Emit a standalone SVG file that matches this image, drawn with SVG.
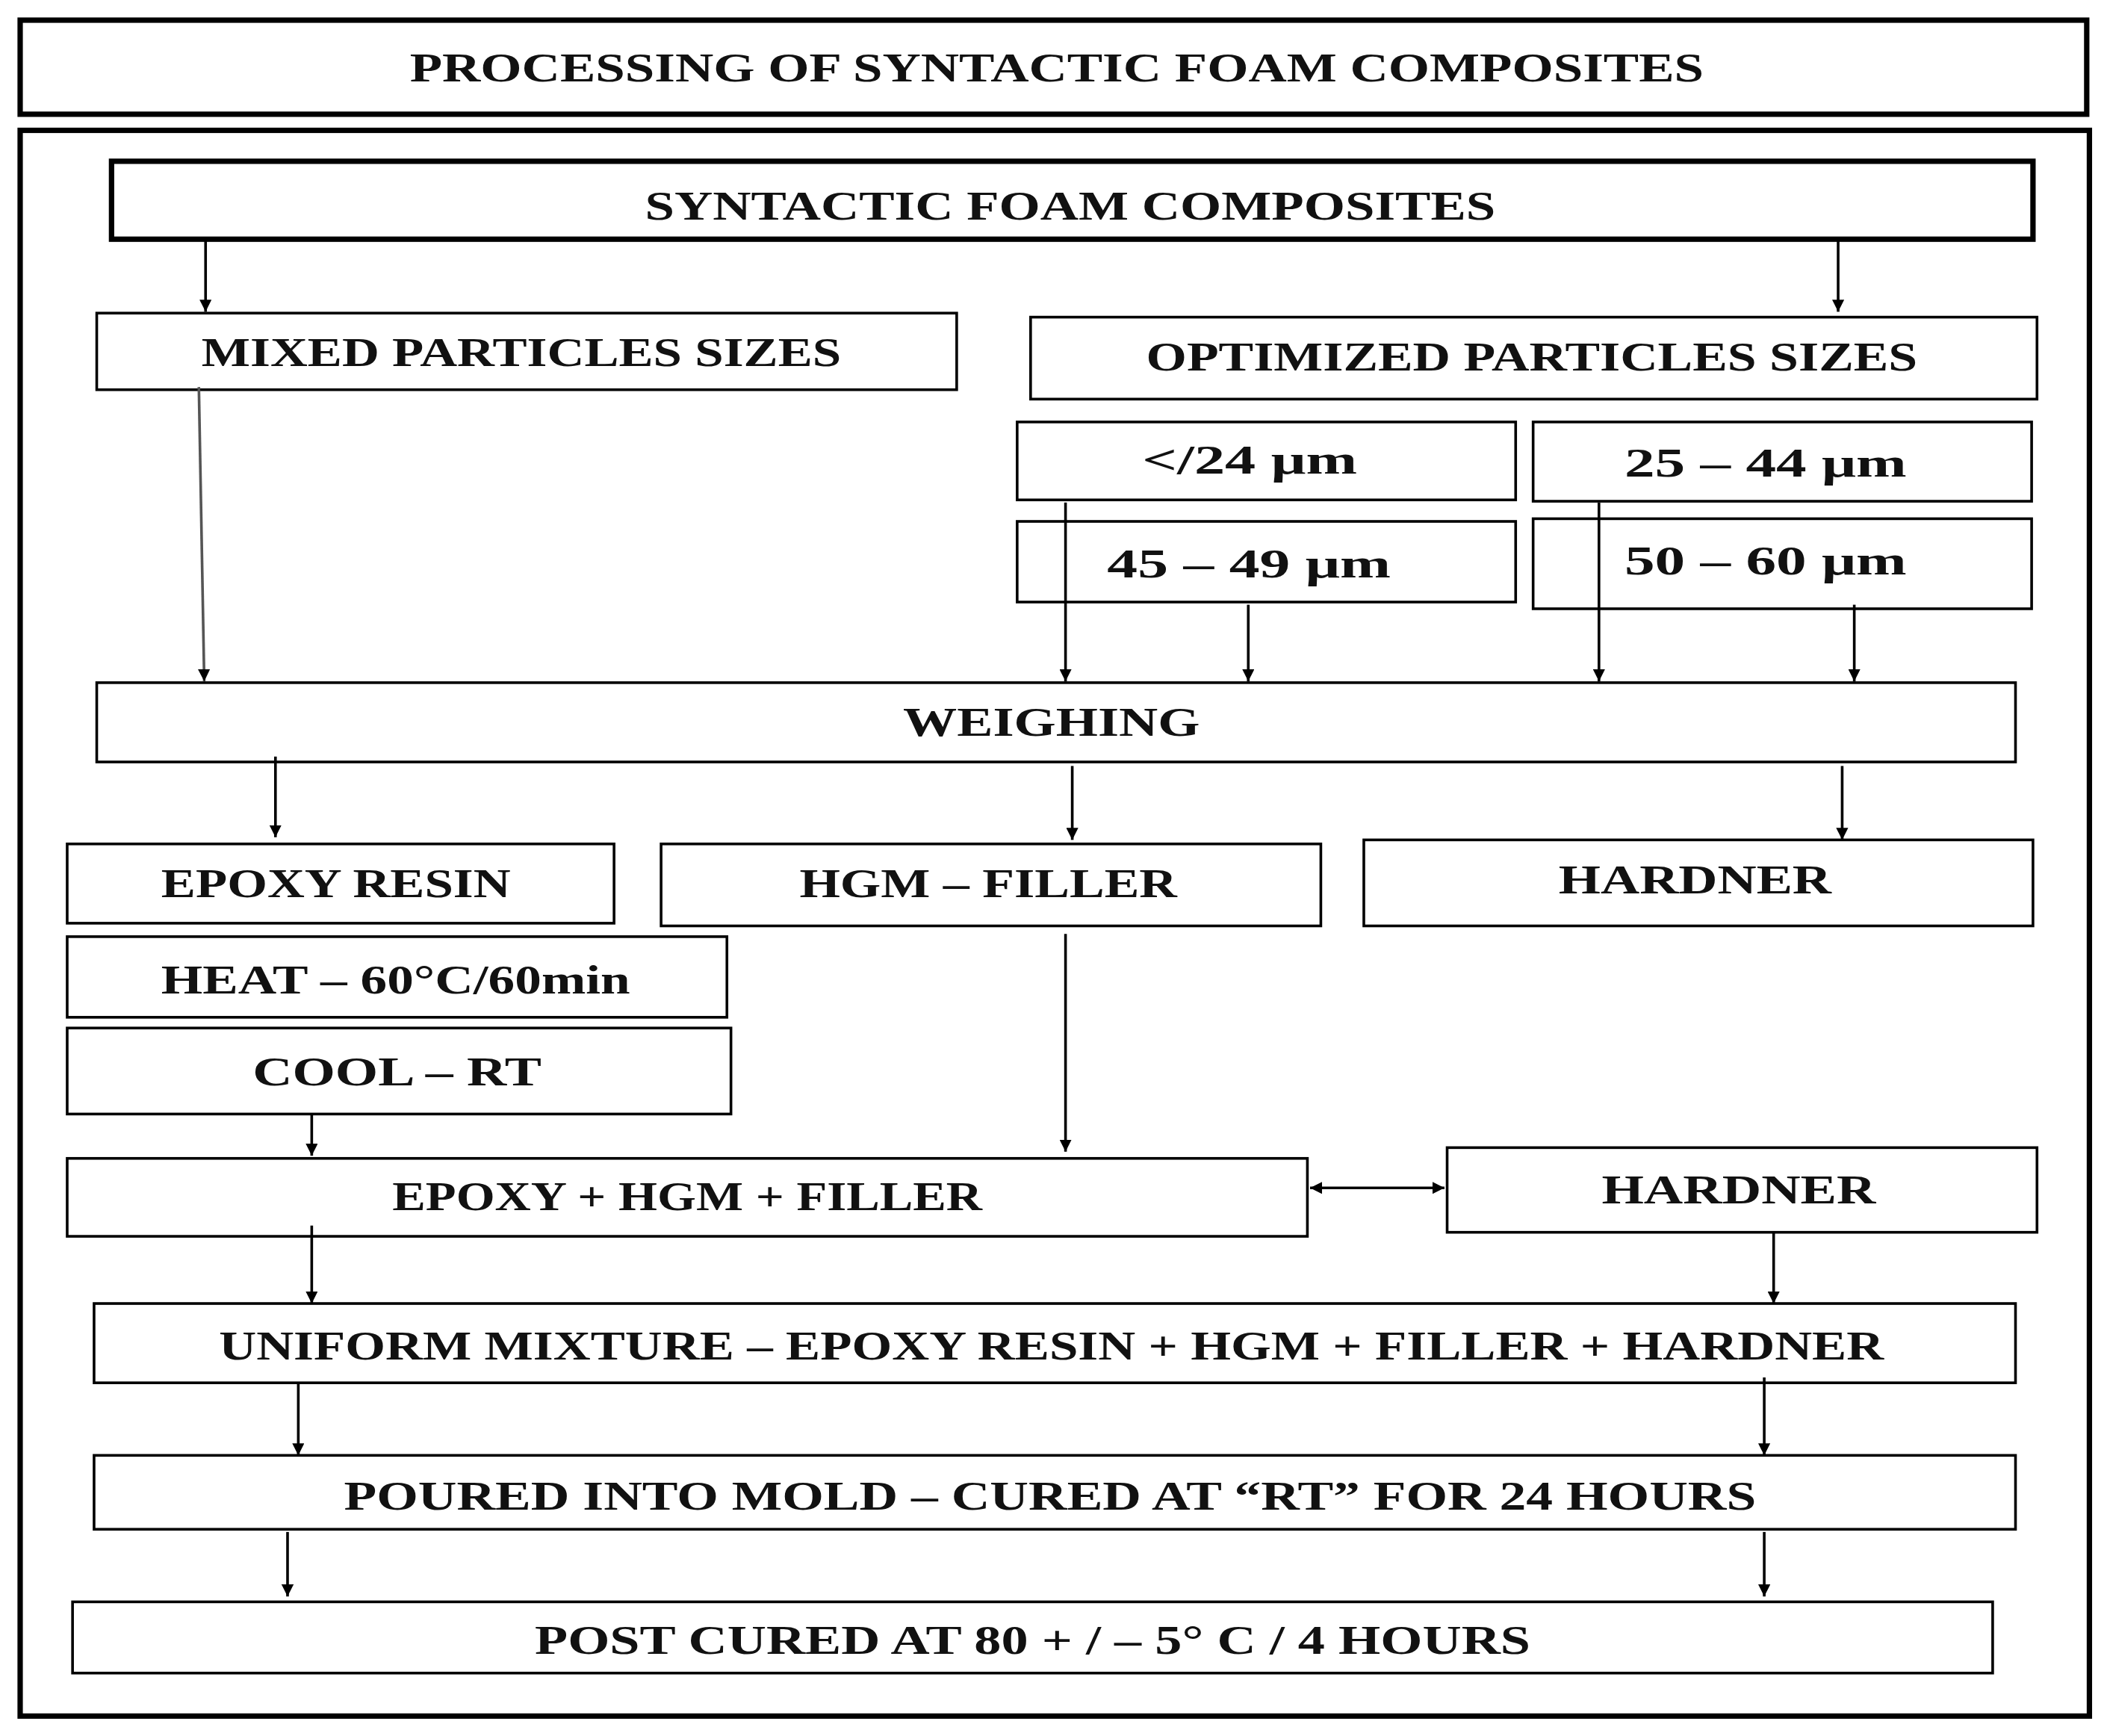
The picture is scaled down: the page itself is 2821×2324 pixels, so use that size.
<svg xmlns="http://www.w3.org/2000/svg" width="2821" height="2324" viewBox="0 0 2821 2324">
<defs>
<marker id="ah" viewBox="0 0 10 10" refX="10" refY="5" markerWidth="9" markerHeight="9" markerUnits="userSpaceOnUse" orient="auto-start-reverse"><path d="M0,0 L10,5 L0,10 z" fill="#000"/></marker>
<style>
rect{fill:#fff;stroke:#000;stroke-width:2}
.thick{stroke-width:4}
text{font-family:"Liberation Serif","DejaVu Serif",serif;font-weight:bold;font-size:31px;fill:#111;text-anchor:start;dominant-baseline:central}
.c line{stroke:#000;stroke-width:2;marker-end:url(#ah)}
</style>
</defs>
<rect x="0" y="0" width="2821" height="2324" style="fill:#fff;stroke:none"/>
<g transform="scale(1.799)">
<g id="title"><rect class="thick" x="15" y="15" width="1538" height="70"/><text x="305" y="50" textLength="963" lengthAdjust="spacingAndGlyphs">PROCESSING OF SYNTACTIC FOAM COMPOSITES</text></g>
<rect class="thick" x="15" y="97" width="1540" height="1180" style="fill:none"/>
<g id="syn"><rect class="thick" x="83" y="120" width="1430" height="58"/><text x="480" y="153" textLength="633" lengthAdjust="spacingAndGlyphs">SYNTACTIC FOAM COMPOSITES</text></g>
<g id="mixed"><rect x="72" y="233" width="640" height="57"/><text x="150" y="262" textLength="476" lengthAdjust="spacingAndGlyphs">MIXED PARTICLES SIZES</text></g>
<g id="opt"><rect x="767" y="236" width="749" height="61"/><text x="853" y="265" textLength="574" lengthAdjust="spacingAndGlyphs">OPTIMIZED PARTICLES SIZES</text></g>
<g id="s24"><rect x="757" y="314" width="371" height="58"/><text x="850" y="342" textLength="160" lengthAdjust="spacingAndGlyphs">&lt;/24 μm</text></g>
<g id="s2544"><rect x="1141" y="314" width="371" height="59"/><text x="1209" y="344" textLength="210" lengthAdjust="spacingAndGlyphs">25  –  44 μm</text></g>
<g id="s4549"><rect x="757" y="388" width="371" height="60"/><text x="824" y="419" textLength="211" lengthAdjust="spacingAndGlyphs">45  –  49 μm</text></g>
<g id="s5060"><rect x="1141" y="386" width="371" height="67"/><text x="1209" y="417" textLength="210" lengthAdjust="spacingAndGlyphs">50  –  60 μm</text></g>
<g id="weigh"><rect x="72" y="508" width="1428" height="59"/><text x="672" y="537" textLength="221" lengthAdjust="spacingAndGlyphs">WEIGHING</text></g>
<g id="epoxy"><rect x="50" y="628" width="407" height="59"/><text x="120" y="657" textLength="260" lengthAdjust="spacingAndGlyphs">EPOXY RESIN</text></g>
<g id="hgm"><rect x="492" y="628" width="491" height="61"/><text x="595" y="657" textLength="281" lengthAdjust="spacingAndGlyphs">HGM –  FILLER</text></g>
<g id="hard1"><rect x="1015" y="625" width="498" height="64"/><text x="1160" y="654" textLength="203" lengthAdjust="spacingAndGlyphs">HARDNER</text></g>
<g id="heat"><rect x="50" y="697" width="491" height="60"/><text x="120" y="729" textLength="349" lengthAdjust="spacingAndGlyphs">HEAT  –  60°C/60min</text></g>
<g id="cool"><rect x="50" y="765" width="494" height="64"/><text x="188" y="797" textLength="215" lengthAdjust="spacingAndGlyphs">COOL – RT</text></g>
<g id="ehf"><rect x="50" y="862" width="923" height="58"/><text x="292" y="890" textLength="439" lengthAdjust="spacingAndGlyphs">EPOXY + HGM + FILLER</text></g>
<g id="hard2"><rect x="1077" y="854" width="439" height="63"/><text x="1192" y="885" textLength="204" lengthAdjust="spacingAndGlyphs">HARDNER</text></g>
<g id="uni"><rect x="70" y="970" width="1430" height="59"/><text x="163" y="1001" textLength="1239" lengthAdjust="spacingAndGlyphs">UNIFORM MIXTURE – EPOXY RESIN + HGM + FILLER + HARDNER</text></g>
<g id="pour"><rect x="70" y="1083" width="1430" height="55"/><text x="256" y="1113" textLength="1051" lengthAdjust="spacingAndGlyphs">POURED INTO MOLD – CURED AT “RT” FOR 24 HOURS</text></g>
<g id="post"><rect x="54" y="1192" width="1429" height="53"/><text x="398" y="1220" textLength="741" lengthAdjust="spacingAndGlyphs">POST CURED AT  80 + / – 5° C / 4 HOURS</text></g>
<g class="c" id="connectors">
<line x1="153" y1="178" x2="153" y2="232"/>
<line x1="1368" y1="178" x2="1368" y2="232"/>
<line x1="148" y1="288" x2="152" y2="507" style="stroke:#555"/>
<line x1="793" y1="374" x2="793" y2="507"/>
<line x1="929" y1="450" x2="929" y2="507"/>
<line x1="1190" y1="374" x2="1190" y2="507"/>
<line x1="1380" y1="450" x2="1380" y2="507"/>
<line x1="205" y1="563" x2="205" y2="623"/>
<line x1="798" y1="570" x2="798" y2="625"/>
<line x1="1371" y1="570" x2="1371" y2="625"/>
<line x1="232" y1="829" x2="232" y2="860"/>
<line x1="793" y1="695" x2="793" y2="857"/>
<line x1="975" y1="884" x2="1075" y2="884" style="marker-start:url(#ah)"/>
<line x1="232" y1="912" x2="232" y2="970"/>
<line x1="1320" y1="917" x2="1320" y2="970"/>
<line x1="222" y1="1029" x2="222" y2="1083"/>
<line x1="1313" y1="1025" x2="1313" y2="1083"/>
<line x1="214" y1="1140" x2="214" y2="1188"/>
<line x1="1313" y1="1140" x2="1313" y2="1188"/>
</g>
</g>
</svg>
